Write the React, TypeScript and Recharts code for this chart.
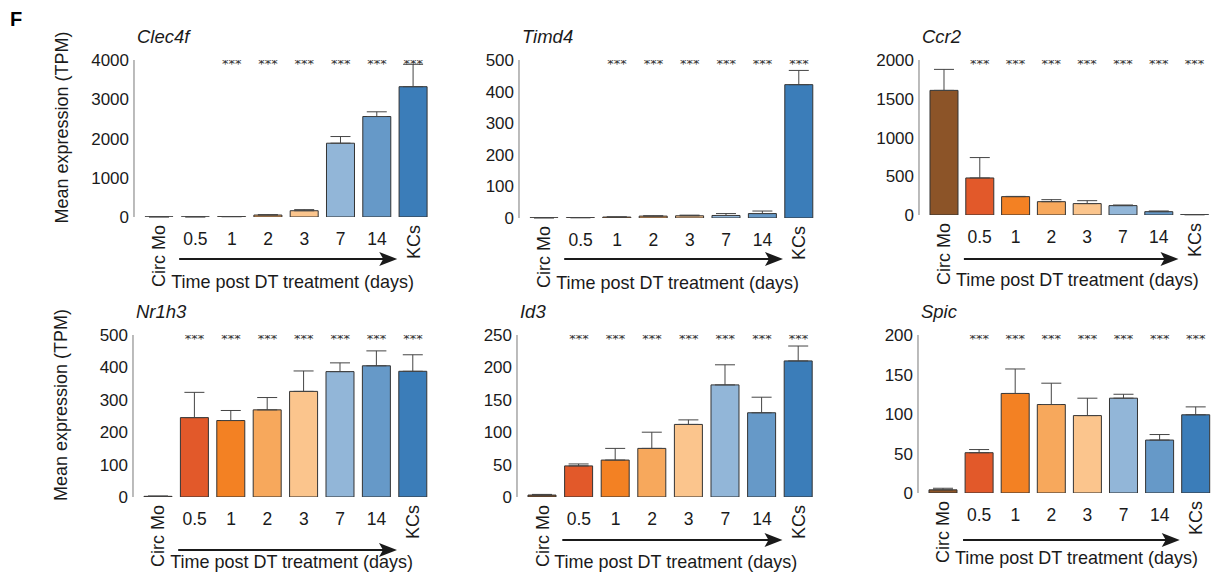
import { Bar, Cell, ComposedChart, ErrorBar, Scatter, XAxis, YAxis } from 'recharts'

const categories = ['Circ Mo', '0.5', '1', '2', '3', '7', '14', 'KCs']
const barColors = ['#8c5428', '#e2592a', '#f38123', '#f7a85c', '#fbc58d', '#92b6d8', '#6699c8', '#3b7db9']

// mean TPM and upper SEM per group
const clec4fMean = [3, 3, 8, 50, 160, 1880, 2560, 3320]
const clec4fErr = [0, 0, 2, 10, 28, 170, 120, 570]
const clec4fSig = [false, false, true, true, true, true, true, true]
const clec4fTicks = [0, 1000, 2000, 3000, 4000]

const timd4Mean = [0.5, 1, 3, 6, 7, 8, 14, 422]
const timd4Err = [0, 0, 0.5, 1, 2, 6, 8, 45]
const timd4Sig = [false, false, true, true, true, true, true, true]
const timd4Ticks = [0, 100, 200, 300, 400, 500]

const ccr2Mean = [1608, 478, 237, 172, 147, 121, 43, 4]
const ccr2Err = [271, 263, 3, 26, 38, 8, 9, 0]
const ccr2Sig = [false, true, true, true, true, true, true, true]
const ccr2Ticks = [0, 500, 1000, 1500, 2000]

const nr1h3Mean = [2, 245, 236, 269, 326, 387, 405, 388]
const nr1h3Err = [1, 78, 31, 38, 63, 27, 46, 51]
const nr1h3Sig = [false, true, true, true, true, true, true, true]
const nr1h3Ticks = [0, 100, 200, 300, 400, 500]

const id3Mean = [3, 48, 57, 75, 112, 173, 130, 210]
const id3Err = [1, 3, 18, 25, 7, 31, 24, 23]
const id3Sig = [false, true, true, true, true, true, true, true]
const id3Ticks = [0, 50, 100, 150, 200, 250]

const spicMean = [4, 51, 126, 112, 98, 120, 67, 99]
const spicErr = [2, 4, 31, 27, 22, 5, 7, 10]
const spicSig = [false, true, true, true, true, true, true, true]
const spicTicks = [0, 50, 100, 150, 200]

const FONT = "'Liberation Sans', Arial, Helvetica, sans-serif"
const INK = '#1a1a1a'
const PAD_L = 7
const TOP = 40
const LEFT = 85
const AXIS_H = 80

type PanelDef = {
  title: string
  mean: number[]
  err: number[]
  sig: boolean[]
  ticks: number[]
  axisX: number
  yTop: number
  y0: number
  pitch: number
  arrowDy: number
  yLabel: boolean
}

const panels: PanelDef[] = [
  { title: 'Clec4f', mean: clec4fMean, err: clec4fErr, sig: clec4fSig, ticks: clec4fTicks, axisX: 134, yTop: 60, y0: 217, pitch: 36.3, arrowDy: 42, yLabel: true },
  { title: 'Timd4', mean: timd4Mean, err: timd4Err, sig: timd4Sig, ticks: timd4Ticks, axisX: 519, yTop: 60, y0: 218, pitch: 36.4, arrowDy: 41, yLabel: false },
  { title: 'Ccr2', mean: ccr2Mean, err: ccr2Err, sig: ccr2Sig, ticks: ccr2Ticks, axisX: 919, yTop: 60, y0: 215, pitch: 35.8, arrowDy: 44, yLabel: false },
  { title: 'Nr1h3', mean: nr1h3Mean, err: nr1h3Err, sig: nr1h3Sig, ticks: nr1h3Ticks, axisX: 133, yTop: 335, y0: 497, pitch: 36.4, arrowDy: 53, yLabel: true },
  { title: 'Id3', mean: id3Mean, err: id3Err, sig: id3Sig, ticks: id3Ticks, axisX: 517, yTop: 335, y0: 497, pitch: 36.6, arrowDy: 43, yLabel: false },
  { title: 'Spic', mean: spicMean, err: spicErr, sig: spicSig, ticks: spicTicks, axisX: 918, yTop: 335, y0: 493, pitch: 36.1, arrowDy: 47, yLabel: false },
]

function CatTick(props: any) {
  const { x, y, payload } = props
  const label = String(payload?.value ?? '')
  if (label === 'Circ Mo' || label === 'KCs') {
    const ty = y + 8
    return (
      <text x={x} y={ty} transform={`rotate(-90 ${x} ${ty})`} textAnchor="end" dy="0.35em" fontSize={18} fill={INK} fontFamily={FONT}>
        {label}
      </text>
    )
  }
  return (
    <text x={x} y={y + 28} textAnchor="middle" fontSize={17.5} fill={INK} fontFamily={FONT}>
      {label}
    </text>
  )
}

function StarShape(props: any) {
  const { cx, cy, payload } = props
  if (!payload || payload.star == null) return <g />
  return (
    <text x={cx} y={cy + 8} textAnchor="middle" fontSize={13} fill="#333" fontFamily="'DejaVu Sans', sans-serif">
      ***
    </text>
  )
}

function TimeLabel({ viewBox, pitch, arrowDy }: any) {
  if (!viewBox) return null
  const { x, y, width } = viewBox
  const first = x + PAD_L + pitch / 2
  const last = x + width - pitch / 2
  const start = first + 20
  const tip = last - 16
  const ay = y + arrowDy
  return (
    <g>
      <line x1={start} y1={ay} x2={tip - 12} y2={ay} stroke={INK} strokeWidth={2.2} />
      <polygon points={`${tip},${ay} ${tip - 18},${ay - 7} ${tip - 14},${ay} ${tip - 18},${ay + 7}`} fill={INK} />
      <text x={first + 12} y={y + 71} fontSize={18} fill={INK} fontFamily={FONT}>
        Time post DT treatment (days)
      </text>
    </g>
  )
}

function SideLabel({ viewBox, title, showY }: any) {
  if (!viewBox) return null
  const { x, y, width, height } = viewBox
  const ax = x + width
  const lx = ax - 72
  const ly = y + height / 2 - 11
  return (
    <g>
      <text x={ax + 3} y={y - 17} fontSize={18.5} fontStyle="italic" fill={INK} fontFamily={FONT}>
        {title}
      </text>
      {showY && (
        <text x={lx} y={ly} transform={`rotate(-90 ${lx} ${ly})`} textAnchor="middle" dy="0.35em" fontSize={18} fill={INK} fontFamily={FONT}>
          Mean expression (TPM)
        </text>
      )}
    </g>
  )
}

function Panel({ p }: { p: PanelDef }) {
  const plotH = p.y0 - p.yTop
  const plotW = PAD_L + categories.length * p.pitch
  const width = LEFT + plotW + 15
  const height = TOP + plotH + AXIS_H
  const yMax = p.ticks[p.ticks.length - 1]
  const data = categories.map((cat, i) => ({
    cat,
    mean: p.mean[i],
    err: [0, p.err[i]],
    star: p.sig[i] ? yMax : null,
  }))

  return (
    <div style={{ position: 'absolute', left: p.axisX - LEFT, top: p.yTop - TOP }}>
      <ComposedChart width={width} height={height} data={data} margin={{ top: TOP, right: 15, bottom: 0, left: LEFT - 60 }}>
        <XAxis
          dataKey="cat"
          interval={0}
          axisLine={false}
          tickLine={false}
          tickSize={0}
          tickMargin={0}
          height={AXIS_H}
          padding={{ left: PAD_L, right: 0 }}
          tick={<CatTick />}
          label={(props: any) => <TimeLabel {...props} pitch={p.pitch} arrowDy={p.arrowDy} />}
        />
        <YAxis
          width={60}
          domain={[0, yMax]}
          ticks={p.ticks}
          allowDataOverflow
          axisLine={{ stroke: '#777', strokeWidth: 1 }}
          tickLine={false}
          tickSize={0}
          tickMargin={5}
          tick={{ fill: INK, fontSize: 17, fontFamily: FONT }}
          label={(props: any) => <SideLabel {...props} title={p.title} showY={p.yLabel} />}
        />
        <Bar dataKey="mean" barSize={28} stroke="#333" strokeWidth={1} isAnimationActive={false}>
          {data.map((d, i) => (
            <Cell key={d.cat} fill={barColors[i]} />
          ))}
          <ErrorBar dataKey="err" width={10} stroke="#444" strokeWidth={1} direction="y" />
        </Bar>
        <Scatter dataKey="star" shape={StarShape} isAnimationActive={false} />
      </ComposedChart>
    </div>
  )
}

export default function App() {
  return (
    <div
      style={{
        position: 'absolute',
        left: 0,
        top: 0,
        width: 1219,
        height: 575,
        overflow: 'hidden',
        background: '#fff',
        fontFamily: FONT,
      }}
    >
      <svg width={60} height={40} style={{ position: 'absolute', left: 0, top: 0 }}>
        <text x={10} y={26} fontSize={20} fontWeight="bold" fill="#000" fontFamily={FONT}>
          F
        </text>
      </svg>
      {panels.map((p) => (
        <Panel key={p.title} p={p} />
      ))}
    </div>
  )
}
